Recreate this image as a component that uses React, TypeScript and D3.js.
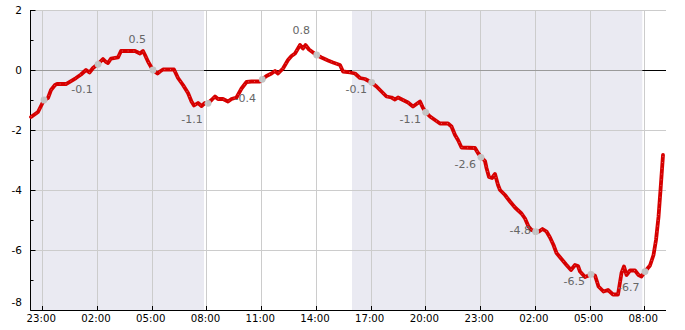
import React, { useEffect } from "react";
import * as d3 from "d3";

// time axis: hours after 23:00 of day 1 (UTC)
const BASE = Date.UTC(2024, 0, 1, 23, 0);
const domainHours = [-0.647, 34.19];

const lineHours = [
  -0.619, -0.236, -0.016, 0.093, 0.312, 0.477, 0.696, 0.806, 1.299, 1.573, 1.847, 2.121, 2.396, 2.587, 2.779,
  3.053, 3.327, 3.465, 3.602, 3.766, 4.15, 4.314, 5.082, 5.356, 5.52, 5.63, 5.794, 6.013, 6.068, 6.315, 6.452,
  6.617, 7.219, 7.439, 7.713, 7.987, 8.179, 8.316, 8.535, 8.727, 8.919, 9.083, 9.275, 9.467, 9.632, 9.906,
  10.18, 10.372, 10.646, 10.92, 11.194, 11.468, 11.934, 12.043, 12.29, 12.564, 12.756, 12.921, 13.195, 13.469,
  13.661, 13.853, 14.127, 14.291, 14.428, 14.62, 15.031, 15.305, 15.662, 15.936, 16.32, 16.484, 16.868, 17.142,
  17.416, 17.69, 18.046, 18.32, 18.594, 18.869, 19.143, 19.334, 19.499, 19.773, 20.047, 20.321, 20.513, 20.705,
  20.869, 21.034, 21.253, 21.527, 21.801, 22.24, 22.432, 22.624, 22.788, 22.98, 23.72, 23.884, 24.049, 24.268,
  24.35, 24.487, 24.652, 24.816, 24.981, 25.09, 25.364, 25.638, 25.913, 26.269, 26.461, 26.652, 26.817, 27.064,
  27.228, 27.42, 27.639, 27.831, 28.023, 28.187, 28.461, 28.735, 28.982, 29.201, 29.366, 29.476, 29.75, 30.079,
  30.298, 30.49, 30.764, 31.011, 31.285, 31.559, 31.751, 31.888, 32.025, 32.217, 32.491, 32.683, 32.847, 33.039,
  33.313, 33.505, 33.642, 33.779, 33.889, 34.026,
];
const lineValues = [
  -1.567, -1.4, -1.133, -1.0, -0.933, -0.667, -0.5, -0.467, -0.467, -0.367, -0.267, -0.15, 0.0, -0.083, 0.067,
  0.2, 0.367, 0.283, 0.233, 0.383, 0.417, 0.633, 0.633, 0.55, 0.633, 0.5, 0.283, 0.05, 0.0, -0.117, -0.05,
  0.017, 0.017, -0.267, -0.5, -0.767, -1.05, -1.183, -1.1, -1.2, -1.1, -1.1, -1.0, -0.883, -0.967, -0.967,
  -1.05, -0.967, -0.917, -0.617, -0.4, -0.383, -0.383, -0.317, -0.2, -0.117, -0.033, -0.117, 0.05, 0.333,
  0.467, 0.55, 0.833, 0.717, 0.833, 0.683, 0.5, 0.417, 0.317, 0.25, 0.167, -0.05, -0.083, -0.117,
  -0.267, -0.3, -0.417, -0.55, -0.717, -0.883, -0.917, -0.983, -0.917, -1.0, -1.083, -1.217, -1.133, -1.05,
  -1.267, -1.417, -1.55, -1.667, -1.783, -1.783, -1.883, -2.167, -2.333, -2.583, -2.6, -2.767, -2.9, -3.033,
  -3.267, -3.567, -3.6, -3.467, -3.833, -4.0, -4.167, -4.383, -4.583, -4.783, -4.95, -5.217, -5.333, -5.383,
  -5.383, -5.3, -5.383, -5.583, -5.833, -6.1, -6.3, -6.5, -6.667, -6.5, -6.533, -6.717, -6.9, -6.817,
  -6.85, -7.217, -7.383, -7.333, -7.483, -7.483, -6.767, -6.55, -6.833, -6.683, -6.683, -6.833, -6.883, -6.717,
  -6.517, -6.167, -5.667, -4.9, -4.0, -2.833,
];

const dotHours = [0.093, 3.053, 6.068, 9.085, 12.06, 15.041, 18.057, 21.017, 24.049, 27.044, 30.079, 33.039];
const dotValues = [-1.0, 0.19, 0.0, -1.11, -0.31, 0.5, -0.41, -1.41, -2.91, -5.39, -6.81, -6.72];

const labelHours = [2.176, 5.208, 8.206, 11.128, 14.198, 17.213, 20.173, 23.188, 26.203, 29.163, 32.145];
const labelValues = [-0.1, 0.5, -1.1, -0.4, 0.8, -0.1, -1.1, -2.6, -4.8, -6.5, -6.7];
const labelTexts = ["-0.1", "0.5", "-1.1", "-0.4", "0.8", "-0.1", "-1.1", "-2.6", "-4.8", "-6.5", "-6.7"];
const labelAbove = [false, true, false, false, true, false, false, false, false, false, false];

const nightStartHours = [-0.647, 16.977];
const nightEndHours = [8.864, 32.89];

const yMajorTicks = [-8, -6, -4, -2, 0, 2];
const yMinorTicks = [-7, -5, -3, -1, 1];
const yTickLabels = ["-8", "-6", "-4", "-2", "0", "2"];
const xTickHours = [0, 3, 6, 9, 12, 15, 18, 21, 24, 27, 30, 33];

const W = 685;
const H = 330;
const left = 30.5;
const right = 666;
const top = 10;
const bottom = 310;
const FONT = "DejaVu Sans, sans-serif";

const toDate = (h: number) => new Date(BASE + h * 3600 * 1000);

export default function App() {
  useEffect(() => {
    document.body.style.margin = "0";
  }, []);

  const x = d3.scaleUtc().domain(domainHours.map(toDate)).range([left, right]);
  const y = d3.scaleLinear().domain([-8, 2]).range([bottom, top]);
  const fmt = d3.utcFormat("%H:%M");

  const pts: [number, number][] = lineHours.map((h, i) => [x(toDate(h)), y(lineValues[i])]);
  const linePath = d3.line().curve(d3.curveLinear)(pts) || "";

  const nights = nightStartHours.map((s, i) => ({ x0: x(toDate(s)), x1: x(toDate(nightEndHours[i])) }));
  const y0 = Math.round(y(0)) + 0.5;

  // zero line segments: black in day, grey in night
  const bounds = [left, ...nights.flatMap((n) => [n.x0, n.x1]), right].sort((a, b) => a - b);
  const zeroSegs: { a: number; b: number; night: boolean }[] = [];
  for (let i = 0; i < bounds.length - 1; i++) {
    const mid = (bounds[i] + bounds[i + 1]) / 2;
    const night = nights.some((n) => mid >= n.x0 && mid <= n.x1);
    if (bounds[i + 1] - bounds[i] > 0.1) zeroSegs.push({ a: bounds[i], b: bounds[i + 1], night });
  }

  return (
    <svg width={W} height={H} style={{ display: "block", background: "#fff" }} fontFamily={FONT}>
      {nights.map((n, i) => (
        <rect key={"n" + i} x={n.x0} y={top} width={n.x1 - n.x0} height={bottom - top} fill="#eaeaf2" />
      ))}
      {yMajorTicks.map((t) => (
        <line key={"gy" + t} x1={left} x2={right} y1={Math.round(y(t)) + 0.5} y2={Math.round(y(t)) + 0.5} stroke="#cccccc" strokeWidth={1} />
      ))}
      {xTickHours.map((h) => {
        const xx = Math.round(x(toDate(h))) + 0.5;
        return <line key={"gx" + h} x1={xx} x2={xx} y1={top} y2={bottom} stroke="#cccccc" strokeWidth={1} />;
      })}
      {zeroSegs.map((s, i) => (
        <line key={"z" + i} x1={s.a} x2={s.b} y1={y0} y2={y0} stroke={s.night ? "#9a9a9a" : "#000"} strokeWidth={1} />
      ))}
      {/* axes */}
      <line x1={left} x2={left} y1={top} y2={bottom + 0.5} stroke="#000" strokeWidth={1} />
      <line x1={left} x2={right} y1={bottom + 0.5} y2={bottom + 0.5} stroke="#000" strokeWidth={1} />
      {yMajorTicks.map((t) => (
        <line key={"ty" + t} x1={left} x2={left + 5} y1={Math.round(y(t)) + 0.5} y2={Math.round(y(t)) + 0.5} stroke="#000" />
      ))}
      {yMinorTicks.map((t) => (
        <line key={"tm" + t} x1={left} x2={left + 3} y1={Math.round(y(t)) + 0.5} y2={Math.round(y(t)) + 0.5} stroke="#000" />
      ))}
      {xTickHours.map((h) => {
        const xx = Math.round(x(toDate(h))) + 0.5;
        return <line key={"tx" + h} x1={xx} x2={xx} y1={bottom - 4} y2={bottom} stroke="#000" />;
      })}
      {yMajorTicks.map((t, i) => (
        <text
          key={"ly" + t}
          x={left - 8.5}
          y={t === -8 ? y(t) - 4 : y(t) + 3.5}
          textAnchor="end"
          fontSize={10.5}
          fill="#000"
        >
          {yTickLabels[i]}
        </text>
      ))}
      {xTickHours.map((h) => (
        <text key={"lx" + h} x={x(toDate(h)) - 1} y={321.7} textAnchor="middle" fontSize={10.2} fill="#000">
          {fmt(toDate(h))}
        </text>
      ))}
      {/* data line */}
      <path d={linePath} fill="none" stroke="#d60000" strokeWidth={3.8} strokeLinejoin="round" strokeLinecap="round" />
      <path d={linePath} fill="none" stroke="#ffffff" strokeOpacity={0.55} strokeWidth={0.8} strokeDasharray="0.8 5" />
      {dotHours.map((h, i) => (
        <circle key={"d" + i} cx={x(toDate(h))} cy={y(dotValues[i])} r={3.4} fill="#c4c4c4" />
      ))}
      {labelHours.map((h, i) => (
        <text
          key={"lb" + i}
          x={x(toDate(h))}
          y={y(labelValues[i]) + (labelAbove[i] ? -12 : 19.5)}
          textAnchor="middle"
          fontSize={11}
          fill="#666666"
        >
          {labelTexts[i]}
        </text>
      ))}
    </svg>
  );
}
